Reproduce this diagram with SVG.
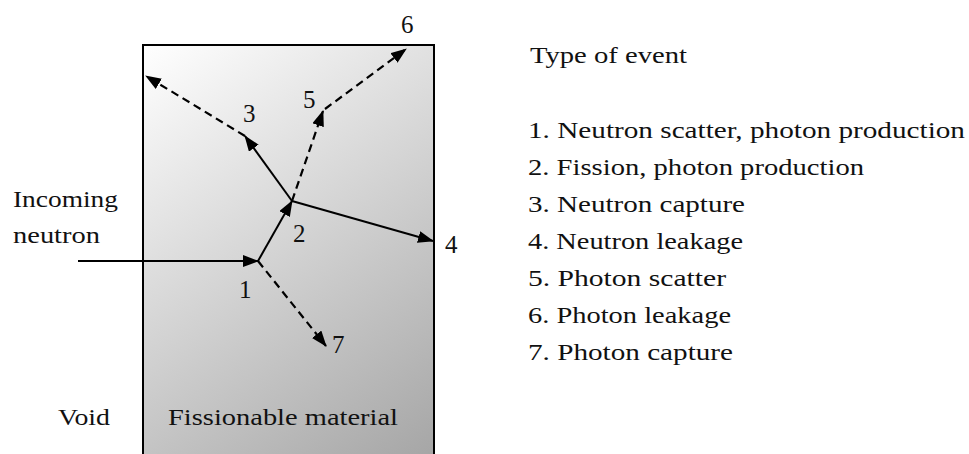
<svg xmlns="http://www.w3.org/2000/svg" width="969" height="454" viewBox="0 0 969 454">
<defs>
<linearGradient id="mat" gradientUnits="userSpaceOnUse" x1="143" y1="45" x2="434" y2="454">
<stop offset="0" stop-color="#ffffff"/>
<stop offset="1" stop-color="#a6a6a6"/>
</linearGradient>
<marker id="ah" viewBox="0 0 16 12" markerWidth="16" markerHeight="12" refX="15" refY="6" orient="auto" markerUnits="userSpaceOnUse">
<path d="M0,0 L16,6 L0,12 z" fill="#000"/>
</marker>
</defs>
<style>
text{font-family:"Liberation Serif","Times New Roman",serif;fill:#111;}
.lbl{font-size:23px;}
.num{font-size:25px;}
.leg{font-size:23px;}
.n{stroke:#000;stroke-width:2;fill:none;}
.p{stroke:#000;stroke-width:2.2;fill:none;stroke-dasharray:8 5;}
</style>
<rect width="969" height="454" fill="#fff"/>
<g id="material">
<rect x="143" y="45" width="291" height="430" fill="url(#mat)" stroke="#000" stroke-width="2"/>
<text class="lbl" x="168" y="425" textLength="230" lengthAdjust="spacingAndGlyphs">Fissionable material</text>
</g>
<g id="void">
<text class="lbl" x="58" y="425" textLength="52" lengthAdjust="spacingAndGlyphs">Void</text>
</g>
<g id="incoming">
<text class="lbl" x="13" y="207" textLength="105" lengthAdjust="spacingAndGlyphs">Incoming</text>
<text class="lbl" x="13" y="243" textLength="87" lengthAdjust="spacingAndGlyphs">neutron</text>
</g>
<g id="connectors">
<line class="n" x1="78" y1="261" x2="258" y2="261" marker-end="url(#ah)"/>
<line class="n" x1="258" y1="261" x2="292" y2="201" marker-end="url(#ah)"/>
<line class="n" x1="292" y1="201" x2="433" y2="241" marker-end="url(#ah)"/>
<line class="n" x1="292" y1="201" x2="245" y2="136" marker-end="url(#ah)"/>
<line class="p" x1="245" y1="136" x2="146" y2="76" marker-end="url(#ah)"/>
<line class="p" x1="292" y1="201" x2="323" y2="111" marker-end="url(#ah)"/>
<line class="p" x1="325" y1="109" x2="406" y2="49" marker-end="url(#ah)"/>
<line class="p" x1="258" y1="261" x2="326" y2="346" marker-end="url(#ah)"/>
</g>
<g id="e1"><text class="num" x="239" y="298">1</text></g>
<g id="e2"><text class="num" x="293" y="242">2</text></g>
<g id="e3"><text class="num" x="243" y="122">3</text></g>
<g id="e4"><text class="num" x="445" y="253">4</text></g>
<g id="e5"><text class="num" x="303" y="108">5</text></g>
<g id="e6"><text class="num" x="401" y="33">6</text></g>
<g id="e7"><text class="num" x="332" y="353">7</text></g>
<g id="legend">
<text class="leg" x="530" y="63" textLength="157" lengthAdjust="spacingAndGlyphs">Type of event</text>
<text class="leg" x="528" y="138" textLength="437" lengthAdjust="spacingAndGlyphs">1. Neutron scatter, photon production</text>
<text class="leg" x="528" y="175" textLength="336" lengthAdjust="spacingAndGlyphs">2. Fission, photon production</text>
<text class="leg" x="528" y="212" textLength="217" lengthAdjust="spacingAndGlyphs">3. Neutron capture</text>
<text class="leg" x="528" y="249" textLength="215" lengthAdjust="spacingAndGlyphs">4. Neutron leakage</text>
<text class="leg" x="528" y="286" textLength="198" lengthAdjust="spacingAndGlyphs">5. Photon scatter</text>
<text class="leg" x="528" y="323" textLength="203" lengthAdjust="spacingAndGlyphs">6. Photon leakage</text>
<text class="leg" x="528" y="360" textLength="205" lengthAdjust="spacingAndGlyphs">7. Photon capture</text>
</g>
</svg>
